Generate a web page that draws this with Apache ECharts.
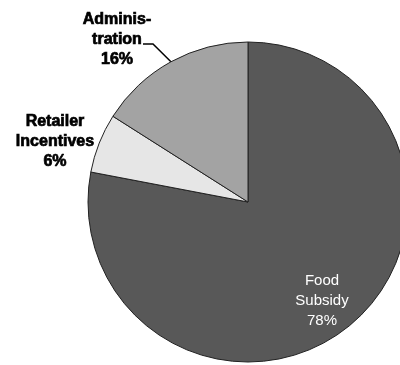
<!DOCTYPE html>
<html>
<head>
<meta charset="utf-8">
<script src="https://cdn.jsdelivr.net/npm/echarts@6/dist/echarts.min.js"></script>
<style>
  html, body { margin: 0; padding: 0; background: #fff; }
  #chart { width: 400px; height: 365px; }
</style>
</head>
<body>
<div id="chart"></div>
<script>
// Program cost shares, drawn clockwise from 12 o'clock
const categories = ['Food\nSubsidy', 'Retailer\nIncentives', 'Adminis-\ntration'];
const shares = [78, 6, 16];
const sliceColors = ['#585858', '#e6e6e6', '#a3a3a3'];

const boldLabel = {
  color: '#000',
  fontFamily: 'Liberation Sans, Arial, sans-serif',
  fontWeight: 900,
  fontSize: 16,
  lineHeight: 20,
  align: 'center',
  textBorderColor: '#000',
  textBorderWidth: 0.7
};

const data = categories.map((name, i) => ({
  name,
  value: shares[i],
  itemStyle: { color: sliceColors[i] }
}));

// label placement per slice
data[0].label = {
  position: 'inside',
  color: '#fff',
  fontFamily: 'Liberation Sans, Arial, sans-serif',
  fontSize: 15,
  lineHeight: 20,
  align: 'center'
};
data[0].labelLine = { show: false };
data[1].label = Object.assign({ position: 'outside' }, boldLabel);
data[1].labelLine = { show: false };
data[2].label = Object.assign({ position: 'outside' }, boldLabel);
data[2].labelLine = { show: true, length: 20, length2: 10, lineStyle: { color: '#000', width: 1.5 } };

const chart = echarts.init(document.getElementById('chart'), null, { renderer: 'canvas' });
chart.setOption({
  animation: false,
  backgroundColor: '#fff',
  series: [{
    type: 'pie',
    center: [248, 202],
    radius: 160,
    startAngle: 90,
    clockwise: true,
    avoidLabelOverlap: false,
    itemStyle: { borderColor: '#222', borderWidth: 1 },
    label: {
      show: true,
      formatter: p => p.name + '\n' + p.value + '%'
    },
    labelLayout: function (params) {
      if (params.dataIndex === 0) {
        return { x: 322, y: 301, align: 'center', verticalAlign: 'middle' };
      }
      if (params.dataIndex === 1) {
        return { x: 55, y: 142, align: 'center', verticalAlign: 'middle' };
      }
      const edge = params.labelLinePoints ? params.labelLinePoints[0] : [171, 62];
      return {
        x: 117, y: 40, align: 'center', verticalAlign: 'middle',
        labelLinePoints: [edge, [153, 44], [143, 44]]
      };
    },
    data
  }]
});
</script>
</body>
</html>
